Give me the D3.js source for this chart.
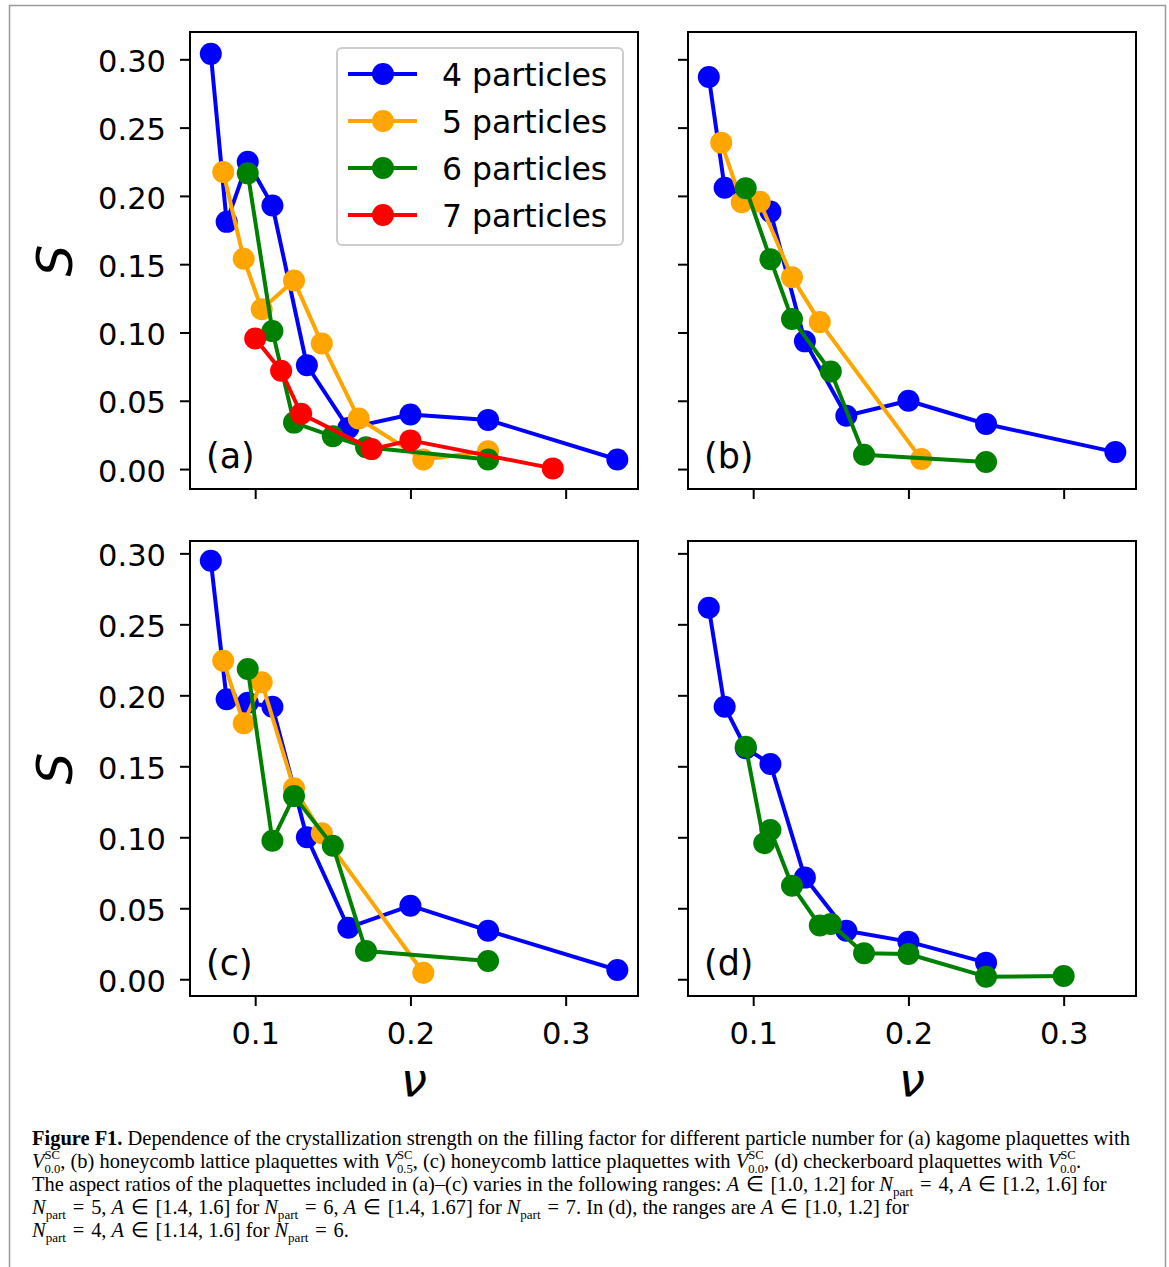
<!DOCTYPE html>
<html>
<head>
<meta charset="utf-8">
<script src="https://cdn.jsdelivr.net/npm/d3@7"></script>
<style>
  body { margin: 0; background: #fff; }
  svg { display: block; }
</style>
</head>
<body>
<svg id="fig" width="1169" height="1267"></svg>
<script>
// ---- data ----
const seriesNames = ["4 particles", "5 particles", "6 particles", "7 particles"];
const seriesColors = ["#0000ff", "#ffa500", "#008000", "#ff0000"];
const panelLabels = ["(a)", "(b)", "(c)", "(d)"];
const yTicks = [0, 0.05, 0.10, 0.15, 0.20, 0.25, 0.30];
const xTicks = [0.1, 0.2, 0.3];

// (a) kagome
const nuA4 = [0.0714, 0.0816, 0.0952, 0.1111, 0.1333, 0.16, 0.2, 0.25, 0.3333];
const sA4  = [0.304, 0.181, 0.225, 0.193, 0.076, 0.030, 0.040, 0.036, 0.007];
const nuA5 = [0.0794, 0.0926, 0.1042, 0.125, 0.1429, 0.1667, 0.2083, 0.25];
const sA5  = [0.2175, 0.154, 0.117, 0.138, 0.092, 0.037, 0.007, 0.013];
const nuA6 = [0.0952, 0.1111, 0.125, 0.15, 0.1714, 0.25];
const sA6  = [0.2165, 0.101, 0.034, 0.024, 0.016, 0.007];
const nuA7 = [0.1, 0.1167, 0.1296, 0.175, 0.2, 0.2917];
const sA7  = [0.0956, 0.072, 0.0405, 0.0146, 0.021, 0.0005];

// (b) honeycomb, V0.5
const nuB4 = [0.0714, 0.0816, 0.1111, 0.1333, 0.16, 0.2, 0.25, 0.3333];
const sB4  = [0.287, 0.206, 0.1885, 0.0935, 0.039, 0.050, 0.033, 0.0124];
const nuB5 = [0.0794, 0.0926, 0.1042, 0.125, 0.1429, 0.2083];
const sB5  = [0.239, 0.1954, 0.1958, 0.1405, 0.1076, 0.0073];
const nuB6 = [0.0952, 0.1111, 0.125, 0.15, 0.1714, 0.25];
const sB6  = [0.2056, 0.1537, 0.1098, 0.0714, 0.0105, 0.0051];

// (c) honeycomb, V0.0
const nuC4 = [0.0714, 0.0816, 0.0952, 0.1111, 0.1333, 0.16, 0.2, 0.25, 0.3333];
const sC4  = [0.2948, 0.1972, 0.1948, 0.192, 0.100, 0.0363, 0.0518, 0.0342, 0.0065];
const nuC5 = [0.0794, 0.0926, 0.1042, 0.125, 0.1429, 0.2083];
const sC5  = [0.2244, 0.1803, 0.2092, 0.1345, 0.1028, 0.0046];
const nuC6 = [0.0952, 0.1111, 0.125, 0.15, 0.1714, 0.25];
const sC6  = [0.2185, 0.0976, 0.129, 0.094, 0.0199, 0.0129];

// (d) checkerboard
const nuD4 = [0.0714, 0.0816, 0.0952, 0.1111, 0.1333, 0.16, 0.2, 0.25];
const sD4  = [0.2617, 0.192, 0.1627, 0.1516, 0.0716, 0.0342, 0.0265, 0.0117];
const nuD6 = [0.0952, 0.1071, 0.1111, 0.125, 0.1429, 0.15, 0.1714, 0.2, 0.25, 0.3];
const sD6  = [0.1638, 0.0958, 0.1051, 0.0659, 0.0378, 0.039, 0.0183, 0.0178, 0.0018, 0.0023];

const panels = [
  { col: 0, row: 0, legend: true, series: [[nuA4, sA4, 0], [nuA5, sA5, 1], [nuA6, sA6, 2], [nuA7, sA7, 3]] },
  { col: 1, row: 0, series: [[nuB4, sB4, 0], [nuB5, sB5, 1], [nuB6, sB6, 2]] },
  { col: 0, row: 1, series: [[nuC4, sC4, 0], [nuC5, sC5, 1], [nuC6, sC6, 2]] },
  { col: 1, row: 1, series: [[nuD4, sD4, 0], [nuD6, sD6, 2]] }
];

// ---- layout ----
const colLeft = [190, 688];
const rowTop = [32, 541];
const rowBottom = [489, 996];
const axW = 448;
const xDomain = [0.0580, 0.3466];
const yDomains = [[-0.0146, 0.3200], [-0.0118, 0.3087]];
const FONT = "DejaVu Sans, sans-serif";

const svg = d3.select("#fig");
svg.append("rect").attr("width", 1169).attr("height", 1267).attr("fill", "#fff");

// outer frame
svg.append("rect")
  .attr("x", 9.5).attr("y", 5.5).attr("width", 1156).attr("height", 1320)
  .attr("fill", "none").attr("stroke", "#9a9a9a").attr("stroke-width", 1.5);

panels.forEach((p, i) => {
  const x0 = colLeft[p.col], y0 = rowTop[p.row], y1 = rowBottom[p.row];
  const x = d3.scaleLinear().domain(xDomain).range([x0, x0 + axW]);
  const y = d3.scaleLinear().domain(yDomains[p.row]).range([y1, y0]);

  const g = svg.append("g");

  // lines + markers, series drawn in order
  const line = d3.line().x(d => x(d[0])).y(d => y(d[1]));
  p.series.forEach(([nu, s, k]) => {
    const pts = nu.map((v, j) => [v, s[j]]);
    const sg = g.append("g");
    sg.append("path")
      .attr("d", line(pts))
      .attr("fill", "none")
      .attr("stroke", seriesColors[k])
      .attr("stroke-width", 4)
      .attr("stroke-linejoin", "round");
    sg.selectAll("circle").data(pts).join("circle")
      .attr("cx", d => x(d[0])).attr("cy", d => y(d[1]))
      .attr("r", 11)
      .attr("fill", seriesColors[k]);
  });

  // axes
  const yAxis = d3.axisLeft(y).tickValues(yTicks).tickSize(10).tickPadding(14)
    .tickFormat(p.col === 0 ? d3.format(".2f") : () => "");
  const ya = g.append("g").attr("transform", `translate(${x0},0)`).call(yAxis);
  const xAxis = d3.axisBottom(x).tickValues(xTicks).tickSize(10).tickPadding(16)
    .tickFormat(p.row === 1 ? d3.format(".1f") : () => "");
  const xa = g.append("g").attr("transform", `translate(0,${y1})`).call(xAxis);
  [ya, xa].forEach(a => {
    a.select(".domain").remove();
    a.selectAll(".tick line").attr("stroke", "#000").attr("stroke-width", 2);
    a.selectAll(".tick text").attr("fill", "#000")
      .attr("font-family", FONT).attr("font-size", 30.5);
  });
  ya.selectAll(".tick text").attr("dy", "0.4em");

  // spines
  g.append("rect")
    .attr("x", x0).attr("y", y0).attr("width", axW).attr("height", y1 - y0)
    .attr("fill", "none").attr("stroke", "#000").attr("stroke-width", 2);

  // panel label
  g.append("text")
    .attr("x", x0 + 16).attr("y", y1 - 21)
    .attr("font-family", FONT).attr("font-size", 35)
    .text(panelLabels[i]);

  // axis titles
  if (p.col === 0) {
    svg.append("text")
      .attr("transform", `translate(72,${(y0 + y1) / 2}) rotate(-90)`)
      .attr("text-anchor", "middle")
      .attr("font-family", FONT).attr("font-style", "italic").attr("font-size", 50)
      .text("S");
  }
  if (p.row === 1) {
    svg.append("text")
      .attr("x", x0 + axW / 2).attr("y", 1096)
      .attr("text-anchor", "middle")
      .attr("font-family", FONT).attr("font-style", "italic").attr("font-size", 47)
      .text("ν");
  }

  // legend
  if (p.legend) {
    const lg = svg.append("g").attr("transform", `translate(${x0 + 147},${y0 + 16})`);
    lg.append("rect")
      .attr("width", 286).attr("height", 197).attr("rx", 5)
      .attr("fill", "#fff").attr("fill-opacity", 0.8)
      .attr("stroke", "#cccccc").attr("stroke-width", 2);
    p.series.forEach(([, , k], j) => {
      const cy = 26 + j * 47;
      lg.append("line").attr("x1", 11).attr("x2", 80).attr("y1", cy).attr("y2", cy)
        .attr("stroke", seriesColors[k]).attr("stroke-width", 4);
      lg.append("circle").attr("cx", 46).attr("cy", cy).attr("r", 11).attr("fill", seriesColors[k]);
      lg.append("text").attr("x", 105).attr("y", cy + 12)
        .attr("font-family", FONT).attr("font-size", 31.5)
        .text(seriesNames[k]);
    });
  }
});

// ---- caption ----
const CAP_FONT = "Liberation Serif, Times New Roman, serif";
const capFs = 21;
const V = sub => [{ t: "V", i: 1 }, { sup: "SC", sub: sub }];
const N = [{ t: "N", i: 1 }, { lo: "part" }];
const A = { t: "A", i: 1 };
const EQ = "\u2004=\u2004";
const IN = "\u2004\u2208\u2004";
const captionLines = [
  [{ t: "Figure F1.", b: 1 }, { t: " Dependence of the crystallization strength on the filling factor for different particle number for (a) kagome plaquettes with" }],
  [...V("0.0"), { t: ", (b) honeycomb lattice plaquettes with " }, ...V("0.5"), { t: ", (c) honeycomb lattice plaquettes with " }, ...V("0.0"), { t: ", (d) checkerboard plaquettes with " }, ...V("0.0"), { t: "." }],
  [{ t: "The aspect ratios of the plaquettes included in (a)\u2013(c) varies in the following ranges: " }, A, { t: IN + "[1.0, 1.2] for " }, ...N, { t: EQ + "4, " }, A, { t: IN + "[1.2, 1.6] for" }],
  [...N, { t: EQ + "5, " }, A, { t: IN + "[1.4, 1.6] for " }, ...N, { t: EQ + "6, " }, A, { t: IN + "[1.4, 1.67] for " }, ...N, { t: EQ + "7. In (d), the ranges are " }, A, { t: IN + "[1.0, 1.2] for" }],
  [...N, { t: EQ + "4, " }, A, { t: IN + "[1.14, 1.6] for " }, ...N, { t: EQ + "6." }]
];
const capBaselines = [1145, 1168, 1191, 1214, 1237];

// one <text> per caption line; pieces are tspans placed one after another
function layoutLine(g, segs) {
  const t = g.append("text")
    .attr("xml:space", "preserve").style("white-space", "pre")
    .attr("font-family", CAP_FONT).attr("font-size", capFs);
  let x = 0;
  const add = (str, y, fs, s) => t.append("tspan")
    .attr("x", x).attr("y", y).attr("font-size", fs)
    .attr("font-weight", s && s.b ? "bold" : null)
    .attr("font-style", s && s.i ? "italic" : null)
    .text(str).node().getComputedTextLength();
  segs.forEach(s => {
    if (s.sup !== undefined) {
      const w1 = add(s.sup, -9, capFs * 0.62);
      const w2 = add(s.sub, 5, capFs * 0.62);
      x += Math.max(w1, w2);
    } else if (s.lo !== undefined) {
      x += add(s.lo, 4.5, capFs * 0.64);
    } else {
      x += add(s.t, 0, capFs, s);
    }
  });
  return x;
}

const capGroups = captionLines.map((segs, j) => {
  const g = svg.append("g");
  const w = layoutLine(g, segs);
  return { g, w, j };
});
const sx = (1130 - 32) / capGroups[0].w;
capGroups.forEach(({ g, j }) => {
  g.attr("transform", `translate(32,${capBaselines[j]}) scale(${sx},1)`);
});
</script>
</body>
</html>
